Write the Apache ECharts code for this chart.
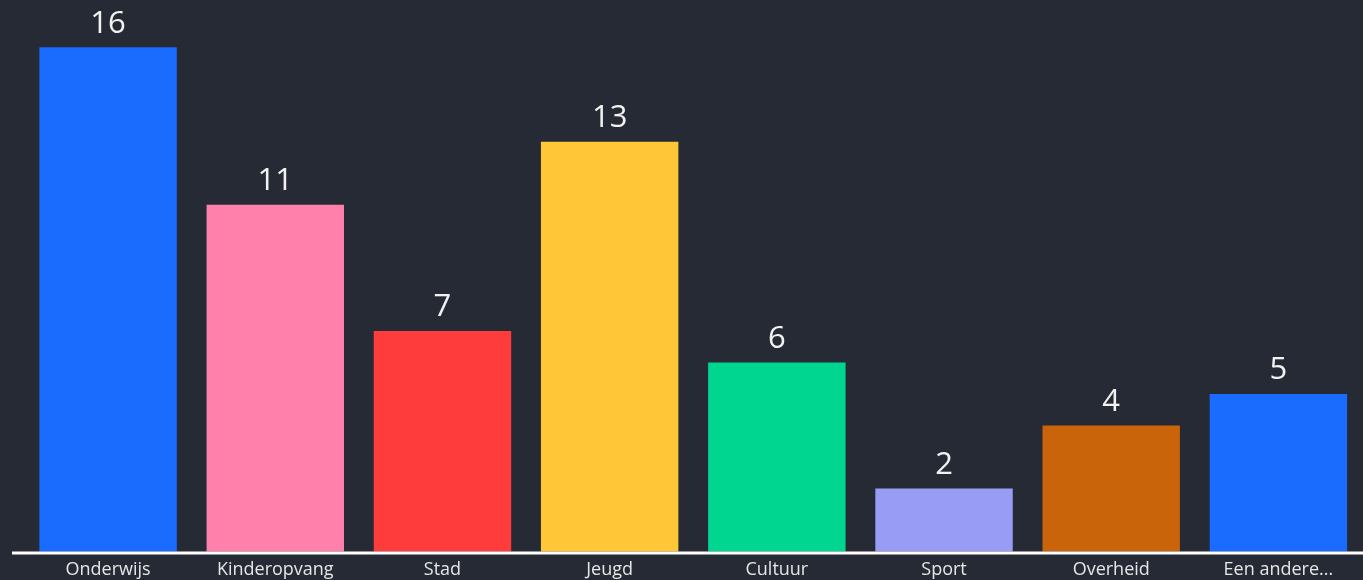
<!DOCTYPE html>
<html><head><meta charset="utf-8">
<script src="https://cdn.jsdelivr.net/npm/echarts@6/dist/echarts.min.js"></script>
<style>html,body{margin:0;padding:0;background:#262a35;}#c{width:1363px;height:580px;}</style>
</head><body><div id="c"></div>
<script>
const categories = ['Onderwijs','Kinderopvang','Stad','Jeugd','Cultuur','Sport','Overheid','Een andere...'];
const values = [16, 11, 7, 13, 6, 2, 4, 5];
const colors = ['#1a6bff','#ff80ab','#ff3c3c','#ffc638','#00d68f','#999cf5','#c9640a','#1a6bff'];

const chart = echarts.init(document.getElementById('c'));
chart.setOption({
  backgroundColor: '#262a35',
  animation: false,
  grid: { left: 24.5, right: 1, top: 0, bottom: 28.5 },
  xAxis: {
    type: 'category', data: categories,
    axisLine: { show: false }, axisTick: { show: false },
    axisLabel: { color: '#e6e6e6', fontSize: 18, fontFamily: 'Open Sans', margin: 9, interval: 0 }
  },
  yAxis: { type: 'value', min: 0, max: 17.5, show: false, splitLine: { show: false } },
  series: [{
    type: 'bar',
    data: values.map((v, i) => ({ value: v, itemStyle: { color: colors[i] } })),
    barCategoryGap: '17.8%',
    label: { show: true, position: 'top', distance: 8, color: '#f2f2f2', fontSize: 31, fontFamily: 'Open Sans' }
  }],
  graphic: [{
    type: 'rect', shape: { x: 12, y: 551.5, width: 1351, height: 3 },
    style: { fill: '#ffffff' }, z: 10
  }]
});
</script></body></html>
